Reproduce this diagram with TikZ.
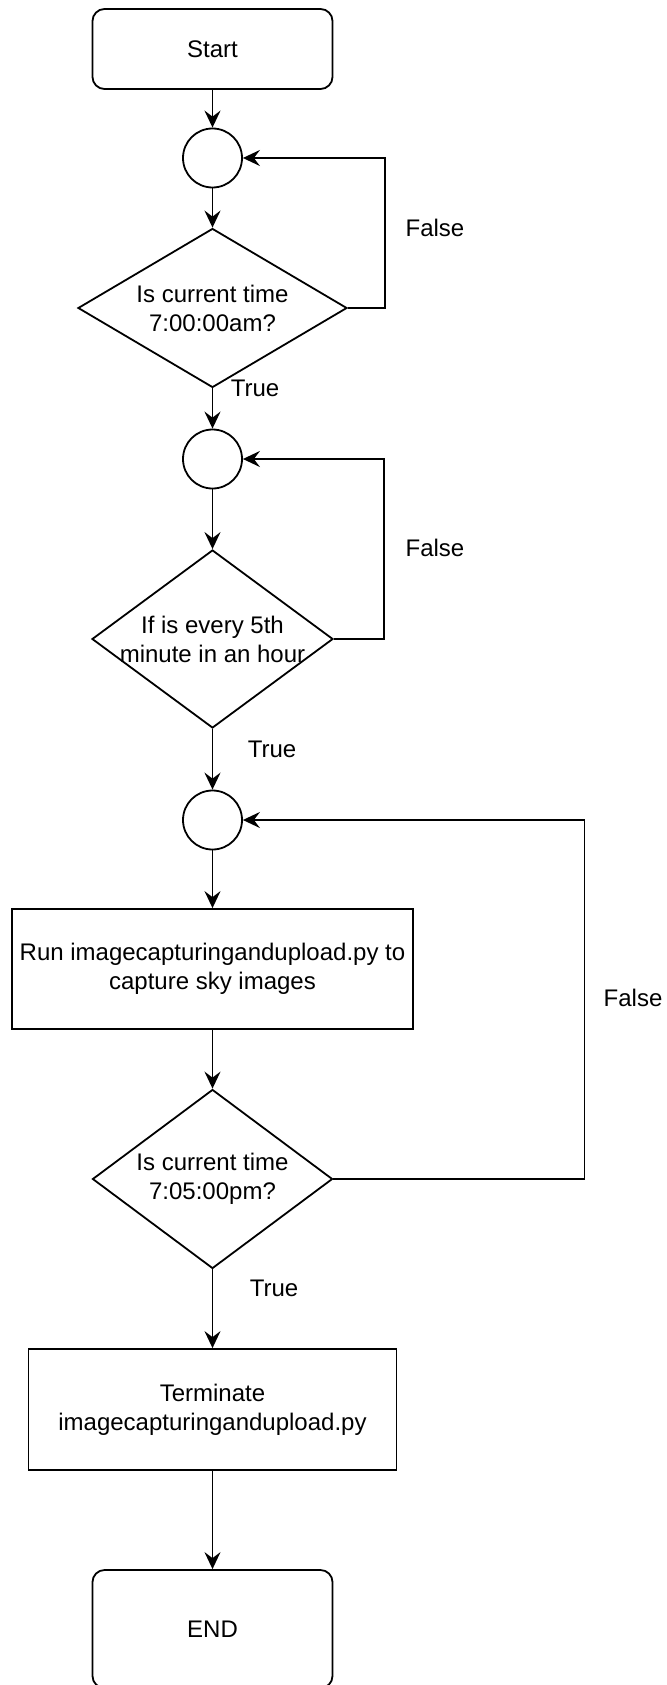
\documentclass[tikz,border=0pt]{standalone}
\usepackage{fontspec}
\setmainfont{Liberation Sans}
\usetikzlibrary{shapes.geometric,arrows.meta}
\newcommand{\linecol}{black}

\begin{document}
\begin{tikzpicture}[x=1pt, y=-1pt, line width=1.8pt,
    every node/.style={font=\fontsize{24}{29}\selectfont, align=center},
    terminal/.style={draw=\linecol, rounded corners=12pt, minimum width=240pt, minimum height=80pt, inner sep=0pt},
    junction/.style={draw=\linecol, circle, minimum size=59pt, inner sep=0pt},
    decision/.style={draw=\linecol, diamond, inner sep=0pt, aspect=1.5},
    process/.style={draw=\linecol, rectangle, minimum height=120pt, inner sep=0pt},
    flow/.style={draw=\linecol, -{Stealth[length=17pt,width=16pt,inset=6pt]}}]

    \useasboundingbox (0,0) rectangle (666,1685);

    \node[terminal] (start) at (212.5, 49) {Start};
    \node[junction] (j1) at (212.5, 158) {};
    \node[decision, minimum width=269pt, minimum height=159pt,
      label={center:{Is current time\\7:00:00am?}}] (d1) at (212.5, 308) {};
    \node[junction] (j2) at (212.5, 459) {};
    \node[decision, minimum width=241pt, minimum height=178pt,
      label={center:{If is every 5th\\minute in an hour}}] (d2) at (212.5, 639) {};
    \node[junction] (j3) at (212.5, 820) {};
    \node[process, minimum width=401pt] (run) at (212.5, 969) {Run imagecapturingandupload.py to\\capture sky images};
    \node[decision, minimum width=240pt, minimum height=179pt,
      label={center:{Is current time\\7:05:00pm?}}] (d3) at (212.5, 1179) {};
    \node[process, minimum width=368pt, minimum height=121pt] (term) at (212.5, 1409.5) {Terminate\\imagecapturingandupload.py};
    \node[terminal, minimum height=118pt] (end) at (212.5, 1629) {END};

    % branch labels
    \node (false1) at (435, 228) {False};
    \node (true1) at (255, 388) {True};
    \node (false2) at (435, 548) {False};
    \node (true2) at (272, 749) {True};
    \node (false3) at (633, 998) {False};
    \node (true3) at (274, 1288) {True};

    \draw[flow] (start) -- (j1);
    \draw[flow] (j1) -- (d1);
    \draw[flow] (d1) -- (j2);
    \draw[flow] (j2) -- (d2);
    \draw[flow] (d2) -- (j3);
    \draw[flow] (j3) -- (run);
    \draw[flow] (run) -- (d3);
    \draw[flow] (d3) -- (term);
    \draw[flow] (term) -- (end);

    % loops back
    \draw[flow] (d1.east) -- ++(37,0) |- (j1.east);
    \draw[flow] (d2.east) -- ++(50,0) |- (j2.east);
    \draw[flow] (d3.east) -- ++(251,0) |- (j3.east);

\end{tikzpicture}
\end{document}
